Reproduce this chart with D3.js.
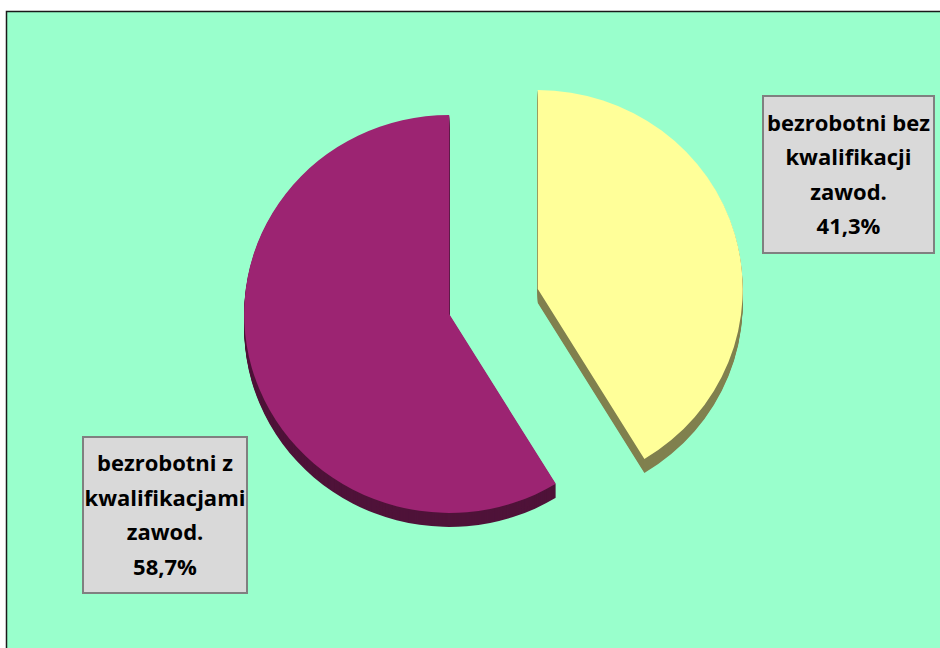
<!DOCTYPE html>
<html>
<head>
<meta charset="utf-8">
<script src="https://cdn.jsdelivr.net/npm/d3@7"></script>
<style>
  body { margin: 0; background: #fff; }
  svg { display: block; }
</style>
</head>
<body>
<svg id="chart" width="940" height="648"></svg>
<script>
const labels = ["bezrobotni bez kwalifikacji zawod.", "bezrobotni z kwalifikacjami zawod."];
const labelLines = [
  ["bezrobotni bez", "kwalifikacji", "zawod.", "41,3%"],
  ["bezrobotni z", "kwalifikacjami", "zawod.", "58,7%"]
];
const values = [41.3, 58.7];
const topColors = ["#ffff99", "#9c2472"];
const sideColors = ["#80804f", "#4f1339"];

const svg = d3.select("#chart");

// plot frame
svg.append("rect")
  .attr("x", 6.5).attr("y", 11.5)
  .attr("width", 960).attr("height", 660)
  .attr("fill", "#99ffcc")
  .attr("stroke", "#1a1a1a")
  .attr("stroke-width", 1.5);

const cx = 493.5, cy = 301.5;
const rx = 205, ry = 199;
const depth = 14;
const explode = 46;

const pie = d3.pie().sort(null).value(d => d)(values);
const arc = d3.arc().innerRadius(0).outerRadius(1);

const slices = svg.append("g");

pie.forEach((p, i) => {
  const mid = (p.startAngle + p.endAngle) / 2;
  const ox = cx + Math.sin(mid) * explode;
  const oy = cy - Math.cos(mid) * explode;
  const g = slices.append("g");
  // side walls: stack the shape downward
  for (let k = depth; k > 0; k--) {
    g.append("path")
      .attr("d", arc(p))
      .attr("transform", `translate(${ox},${oy + k}) scale(${rx},${ry})`)
      .attr("fill", sideColors[i]);
  }
  g.append("path")
    .attr("d", arc(p))
    .attr("transform", `translate(${ox},${oy}) scale(${rx},${ry})`)
    .attr("fill", topColors[i]);
});

// data label boxes
const boxes = [
  { x: 763, y: 96, w: 171, h: 157 },
  { x: 83, y: 437, w: 164, h: 156 }
];

boxes.forEach((b, i) => {
  const g = svg.append("g");
  g.append("rect")
    .attr("x", b.x).attr("y", b.y)
    .attr("width", b.w).attr("height", b.h)
    .attr("fill", "#d9d9d9")
    .attr("stroke", "#808080")
    .attr("stroke-width", 2);
  const lineH = 34.5;
  const startY = b.y + b.h / 2 - lineH * 1.5;
  g.selectAll("text")
    .data(labelLines[i])
    .join("text")
    .attr("x", b.x + b.w / 2)
    .attr("y", (d, j) => startY + j * lineH)
    .attr("dy", "0.36em")
    .attr("text-anchor", "middle")
    .attr("font-family", "'Open Sans', sans-serif")
    .attr("font-weight", "bold")
    .attr("font-size", 22)
    .attr("fill", "#000")
    .text(d => d);
});
</script>
</body>
</html>
